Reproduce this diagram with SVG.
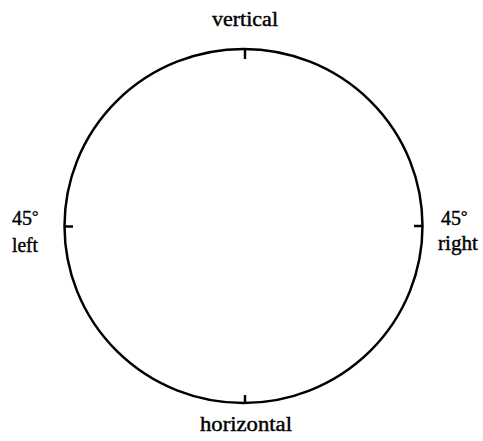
<svg xmlns="http://www.w3.org/2000/svg" width="483" height="441" viewBox="0 0 483 441">
<style>
.lbl{font-family:"Liberation Serif","Times New Roman",serif;font-size:20px;fill:#000;stroke:#000;stroke-width:0.4}
.ln{fill:none;stroke:#000;stroke-width:2.5}
</style>
<rect width="483" height="441" fill="#fff"/>
<g id="dial">
<ellipse class="ln" cx="243.5" cy="226" rx="179" ry="177"/>
</g>
<g id="ticks">
<line class="ln" x1="245" y1="49" x2="245" y2="59"/>
<line class="ln" x1="245" y1="403" x2="245" y2="395"/>
<line class="ln" x1="64.5" y1="226.5" x2="73" y2="226.5"/>
<line class="ln" x1="422.5" y1="226" x2="414" y2="226"/>
</g>
<g id="label-vertical"><text class="lbl" x="245" y="26" text-anchor="middle" textLength="66" lengthAdjust="spacingAndGlyphs">vertical</text></g>
<g id="label-horizontal"><text class="lbl" x="246" y="431" text-anchor="middle" textLength="92" lengthAdjust="spacingAndGlyphs">horizontal</text></g>
<g id="label-left"><text class="lbl" x="12" y="225" font-size="18">45<tspan dy="-3" font-size="16">°</tspan></text>
<text class="lbl" x="12" y="251.5" textLength="26" lengthAdjust="spacingAndGlyphs">left</text></g>
<g id="label-right"><text class="lbl" x="441" y="225" font-size="18">45<tspan dy="-3" font-size="16">°</tspan></text>
<text class="lbl" x="438" y="249.5" textLength="40" lengthAdjust="spacingAndGlyphs">right</text></g>
</svg>
